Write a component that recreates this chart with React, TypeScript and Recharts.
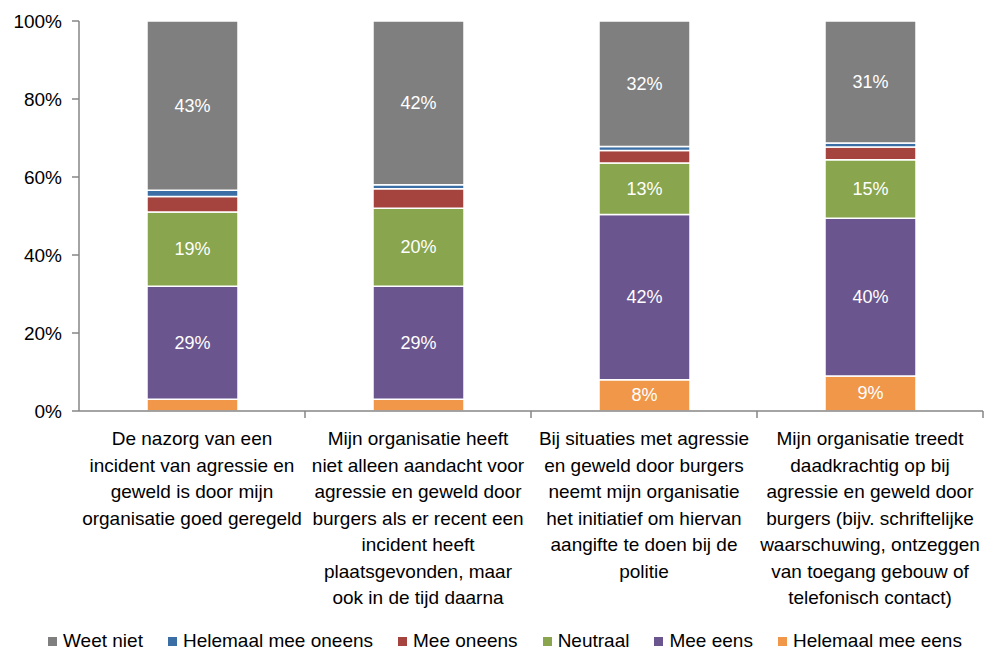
import { BarChart, Bar, XAxis, YAxis, Legend, LabelList } from 'recharts';

const categories = [
  ['De nazorg van een', 'incident van agressie en', 'geweld is door mijn', 'organisatie goed geregeld'],
  ['Mijn organisatie heeft', 'niet alleen aandacht voor', 'agressie en geweld door', 'burgers als er recent een', 'incident heeft', 'plaatsgevonden, maar', 'ook in de tijd daarna'],
  ['Bij situaties met agressie', 'en geweld door burgers', 'neemt mijn organisatie', 'het initiatief om hiervan', 'aangifte te doen bij de', 'politie'],
  ['Mijn organisatie treedt', 'daadkrachtig op bij', 'agressie en geweld door', 'burgers (bijv. schriftelijke', 'waarschuwing, ontzeggen', 'van toegang gebouw of', 'telefonisch contact)'],
];

const helemaalMeeEens = [3, 3, 8, 9];
const meeEens = [29, 29, 42.4, 40.4];
const neutraal = [19, 20, 13.2, 15];
const meeOneens = [4, 5, 3.2, 3.3];
const helemaalMeeOneens = [1.6, 1, 1, 1];
const weetNiet = [43.4, 42, 32.2, 31.3];

const yTicks = [0, 20, 40, 60, 80, 100];

// stack order, bottom to top
const series = [
  { key: 'Helemaal mee eens', values: helemaalMeeEens, color: '#F0974A' },
  { key: 'Mee eens', values: meeEens, color: '#6B558E' },
  { key: 'Neutraal', values: neutraal, color: '#89A54E' },
  { key: 'Mee oneens', values: meeOneens, color: '#A5443F' },
  { key: 'Helemaal mee oneens', values: helemaalMeeOneens, color: '#3A6EA5' },
  { key: 'Weet niet', values: weetNiet, color: '#7F7F7F' },
];

const data = categories.map((lines, i) => {
  const row: Record<string, any> = { name: lines.join(' '), lines };
  series.forEach((s) => (row[s.key] = s.values[i]));
  return row;
});

const FONT = '"Liberation Sans", Arial, sans-serif';

function CategoryTick(props: any) {
  const { x, y, payload, index, width, visibleTicksCount } = props;
  const lines = categories[index] ?? [payload.value];
  const band = width / (visibleTicksCount || categories.length);
  return (
    <g>
      <line x1={x + band / 2} x2={x + band / 2} y1={y} y2={y + 7} stroke="#868686" strokeWidth={1.5} />
      <text x={x} y={y} textAnchor="middle" fontFamily={FONT} fontSize={19} fill="#000">
        {lines.map((l: string, i: number) => (
          <tspan key={i} x={x} dy={i === 0 ? 34 : 26.5}>
            {l}
          </tspan>
        ))}
      </text>
    </g>
  );
}

function ValueLabel(props: any) {
  const { x, y, width, height, value } = props;
  if (value < 6) return null;
  return (
    <text x={x + width / 2} y={y + height / 2} dy={6} textAnchor="middle" fontFamily={FONT} fontSize={18} fill="#fff">
      {`${Math.round(value)}%`}
    </text>
  );
}

function LegendContent() {
  const items = [...series].reverse();
  return (
    <div style={{ display: 'flex', justifyContent: 'flex-start', fontFamily: FONT, fontSize: 19, color: '#000', paddingTop: 9, paddingLeft: 48, whiteSpace: 'nowrap', width: 989 }}>
      {items.map((s) => (
        <span key={s.key} style={{ display: 'flex', alignItems: 'center', marginRight: 25, flexShrink: 0 }}>
          <span style={{ width: 9, height: 9, background: s.color, marginRight: 6, display: 'inline-block' }} />
          {s.key}
        </span>
      ))}
    </div>
  );
}

export default function App() {
  return (
    <div style={{ position: 'absolute', left: 0, top: 0, width: 989, height: 651, background: '#fff' }}>
      <BarChart width={989} height={651} data={data} margin={{ top: 21, right: 6, left: 0, bottom: 0 }} barSize={91}>
        <XAxis
          dataKey="name"
          interval={0}
          height={210}
          tick={<CategoryTick />}
          tickLine={false}
          tickSize={0}
          tickMargin={0}
          axisLine={{ stroke: '#868686', strokeWidth: 1.5 }}
        />
        <YAxis
          width={79}
          domain={[0, 100]}
          ticks={yTicks}
          interval={0}
          tickFormatter={(v) => `${v}%`}
          tick={{ fontFamily: FONT, fontSize: 19, fill: '#000' }}
          tickSize={7}
          tickMargin={10}
          tickLine={{ stroke: '#868686', strokeWidth: 1.5 }}
          axisLine={{ stroke: '#868686', strokeWidth: 1.5 }}
        />
        <Legend verticalAlign="bottom" height={30} wrapperStyle={{ left: 0, width: 989 }} content={<LegendContent />} />
        {series.map((s) => (
          <Bar key={s.key} dataKey={s.key} stackId="a" fill={s.color} stroke="#fff" strokeWidth={1.5} isAnimationActive={false}>
            <LabelList dataKey={s.key} content={<ValueLabel />} />
          </Bar>
        ))}
      </BarChart>
    </div>
  );
}
